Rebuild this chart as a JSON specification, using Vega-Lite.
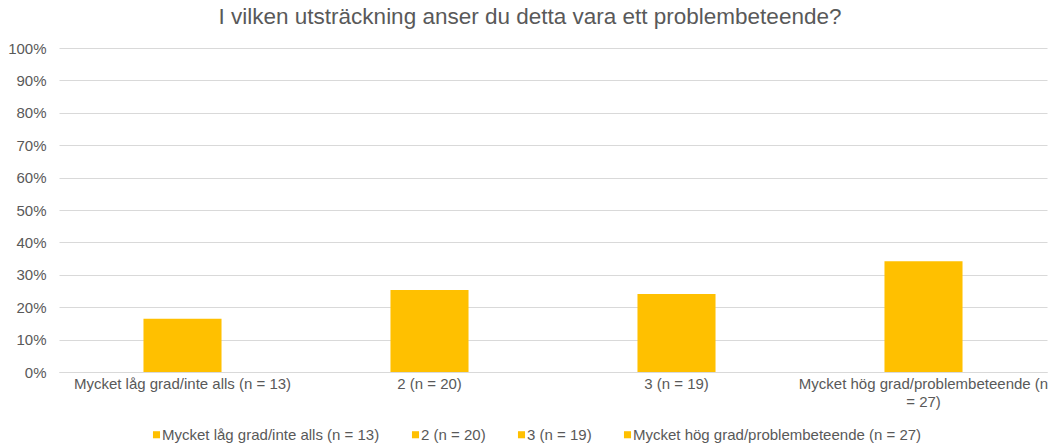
{
  "$schema": "https://vega.github.io/schema/vega-lite/v6.json",
  "autosize": "none",
  "width": 988,
  "height": 324,
  "padding": {"left": 59, "top": 48, "right": 6, "bottom": 71},
  "background": "white",
  "title": {
    "text": "I vilken utsträckning anser du detta vara ett problembeteende?",
    "font": "Liberation Sans",
    "fontSize": 22.5,
    "fontWeight": "normal",
    "color": "#595959",
    "anchor": "middle",
    "dx": -23,
    "offset": 13
  },
  "data": {
    "values": [
      {"kategori": "Mycket låg grad/inte alls (n = 13)", "andel": 0.1646},
      {"kategori": "2 (n = 20)", "andel": 0.2532},
      {"kategori": "3 (n = 19)", "andel": 0.2405},
      {"kategori": "Mycket hög grad/problembeteende (n = 27)", "andel": 0.3418}
    ]
  },
  "mark": {"type": "bar", "color": "#FFC000"},
  "encoding": {
    "x": {
      "field": "kategori",
      "type": "nominal",
      "sort": null,
      "scale": {"paddingInner": 0.684, "paddingOuter": 0.342},
      "axis": {
        "title": null,
        "labelAngle": 0,
        "labelFont": "Liberation Sans",
        "labelFontSize": 15,
        "labelColor": "#595959",
        "labelPadding": 4,
        "labelLineHeight": 18,
        "ticks": false,
        "domain": true,
        "domainColor": "#D9D9D9",
        "labelLimit": 400,
        "labelExpr": "datum.value == 'Mycket hög grad/problembeteende (n = 27)' ? ['Mycket hög grad/problembeteende (n', '= 27)'] : datum.value"
      }
    },
    "y": {
      "field": "andel",
      "type": "quantitative",
      "scale": {"domain": [0, 1]},
      "axis": {
        "title": null,
        "format": ".0%",
        "values": [0, 0.1, 0.2, 0.3, 0.4, 0.5, 0.6, 0.7, 0.8, 0.9, 1],
        "labelFont": "Liberation Sans",
        "labelFontSize": 15,
        "labelColor": "#595959",
        "labelPadding": 13,
        "ticks": false,
        "domain": false,
        "grid": true,
        "gridColor": "#D9D9D9"
      }
    },
    "color": {
      "field": "kategori",
      "type": "nominal",
      "sort": null,
      "scale": {"range": ["#FFC000", "#FFC000", "#FFC000", "#FFC000"]},
      "legend": {
        "title": null,
        "orient": "none",
        "direction": "horizontal",
        "legendX": 90,
        "legendY": 379,
        "symbolType": "square",
        "symbolSize": 50,
        "symbolStrokeWidth": 0,
        "labelFont": "Liberation Sans",
        "labelFontSize": 15,
        "labelColor": "#595959",
        "labelOffset": -2,
        "labelLimit": 400,
        "columnPadding": 28
      }
    }
  },
  "config": {"view": {"stroke": null}}
}
